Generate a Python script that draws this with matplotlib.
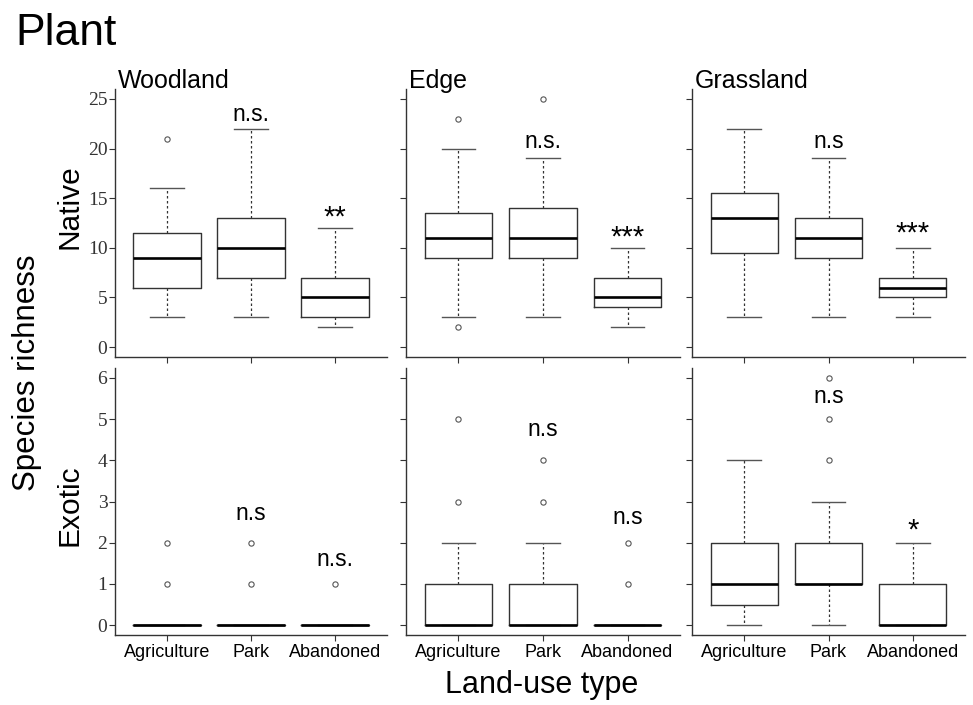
import matplotlib
matplotlib.use("Agg")
import matplotlib.pyplot as plt

W, H = 973, 705

# ---------------- data ----------------
categories = ["Agriculture", "Park", "Abandoned"]
habitats = ["Woodland", "Edge", "Grassland"]

# Native species richness: one inner list per habitat (Agriculture, Park, Abandoned)
native_whislo = [[3, 3, 2], [3, 3, 2], [3, 3, 3]]
native_q1 = [[6, 7, 3], [9, 9, 4], [9.5, 9, 5]]
native_med = [[9, 10, 5], [11, 11, 5], [13, 11, 6]]
native_q3 = [[11.5, 13, 7], [13.5, 14, 7], [15.5, 13, 7]]
native_whishi = [[16, 22, 12], [20, 19, 10], [22, 19, 10]]
native_fliers = [[[21], [], []], [[23, 2], [25], []], [[], [], []]]
native_sig = [["", "n.s.", "**"], ["", "n.s.", "***"], ["", "n.s", "***"]]
native_sig_y = [[0, 23.4, 13.0], [0, 20.7, 11.0], [0, 20.7, 11.4]]

# Exotic species richness
exotic_whislo = [[0, 0, 0], [0, 0, 0], [0, 0, 0]]
exotic_q1 = [[0, 0, 0], [0, 0, 0], [0.5, 1, 0]]
exotic_med = [[0, 0, 0], [0, 0, 0], [1, 1, 0]]
exotic_q3 = [[0, 0, 0], [1, 1, 0], [2, 2, 1]]
exotic_whishi = [[0, 0, 0], [2, 2, 0], [4, 3, 2]]
exotic_fliers = [[[1, 2], [1, 2], [1]], [[3, 5], [3, 4], [1, 2]], [[], [4, 5, 6], []]]
exotic_sig = [["", "n.s", "n.s."], ["", "n.s", "n.s"], ["", "n.s", "*"]]
exotic_sig_y = [[0, 2.71, 1.6], [0, 4.74, 2.61], [0, 5.55, 2.3]]

native_ticks = [0, 5, 10, 15, 20, 25]
exotic_ticks = [0, 1, 2, 3, 4, 5, 6]

# ---------------- style ----------------
SANS = ["Liberation Sans", "DejaVu Sans"]
SERIF = ["Liberation Serif", "DejaVu Serif"]
plt.rcParams["font.family"] = SANS
LINE = "#333333"

fig = plt.figure(figsize=(W / 100, H / 100), dpi=100)

col_x = [(115, 387), (406, 680), (692, 965)]
row_y = [(89, 357), (368, 635)]


def rect(x0, x1, yt, yb):
    return [x0 / W, 1 - yb / H, (x1 - x0) / W, (yb - yt) / H]


rows = [
    (native_whislo, native_q1, native_med, native_q3, native_whishi, native_fliers,
     native_sig, native_sig_y, native_ticks, (-1, 26)),
    (exotic_whislo, exotic_q1, exotic_med, exotic_q3, exotic_whishi, exotic_fliers,
     exotic_sig, exotic_sig_y, exotic_ticks, (-0.24, 6.24)),
]

for r, (wlo, q1, med, q3, whi, fl, sig, sigy, ticks, ylim) in enumerate(rows):
    for c in range(3):
        ax = fig.add_axes(rect(col_x[c][0], col_x[c][1], row_y[r][0], row_y[r][1]))
        stats = []
        for k, cat in enumerate(categories):
            stats.append(dict(label=cat, whislo=wlo[c][k], q1=q1[c][k], med=med[c][k],
                              q3=q3[c][k], whishi=whi[c][k], fliers=fl[c][k]))
        ax.bxp(stats, positions=[1, 2, 3], widths=0.8, capwidths=0.4,
               showfliers=True, manage_ticks=False,
               boxprops=dict(color=LINE, linewidth=1.0),
               medianprops=dict(color="black", linewidth=1.9, solid_capstyle="butt"),
               whiskerprops=dict(color=LINE, linewidth=0.9, linestyle=(0, (2, 2))),
               capprops=dict(color="#555555", linewidth=1.0),
               flierprops=dict(marker="o", markersize=3.8, markerfacecolor="none",
                               markeredgecolor="#555555", markeredgewidth=0.8))
        for k in range(3):
            s = sig[c][k]
            if s:
                fs = 21 if "*" in s else 16.5
                ax.text(k + 1, sigy[c][k], s, ha="center", va="center", fontsize=fs,
                        color="black")
        ax.set_xlim(0.38, 3.62)
        ax.set_ylim(*ylim)
        ax.set_yticks(ticks)
        ax.set_xticks([1, 2, 3])
        for sp in ("top", "right"):
            ax.spines[sp].set_visible(False)
        for sp in ("left", "bottom"):
            ax.spines[sp].set_color(LINE)
            ax.spines[sp].set_linewidth(1.0)
        ax.tick_params(axis="both", direction="out", length=4.5, width=0.8, color=LINE)
        ax.tick_params(axis="y", pad=1)
        ax.tick_params(axis="x", pad=2)
        if c == 0:
            ax.set_yticklabels([str(t) for t in ticks], family=SERIF, fontsize=14,
                               color="#333333")
        else:
            ax.set_yticklabels([])
        if r == 1:
            ax.set_xticklabels(categories, fontsize=13, color="black")
        else:
            ax.set_xticklabels([])
            ax.text(0.01, 1.003, habitats[c], transform=ax.transAxes, ha="left",
                    va="baseline", fontsize=18)

fig.text(15 / W, 1 - 45 / H, "Plant", fontsize=32, ha="left", va="baseline")
fig.text(69 / W, 1 - 207 / H, "Native", fontsize=21.5, rotation=90, ha="center", va="center")
fig.text(69 / W, 1 - 505 / H, "Exotic", fontsize=21.5, rotation=90, ha="center", va="center")
fig.text(27 / W, 1 - 373 / H, "Species richness", fontsize=22.5, rotation=90,
         ha="center", va="center")
fig.text(542 / W, 1 - 693 / H, "Land-use type", fontsize=22, ha="center", va="baseline")

fig.savefig("out.png", dpi=100)
